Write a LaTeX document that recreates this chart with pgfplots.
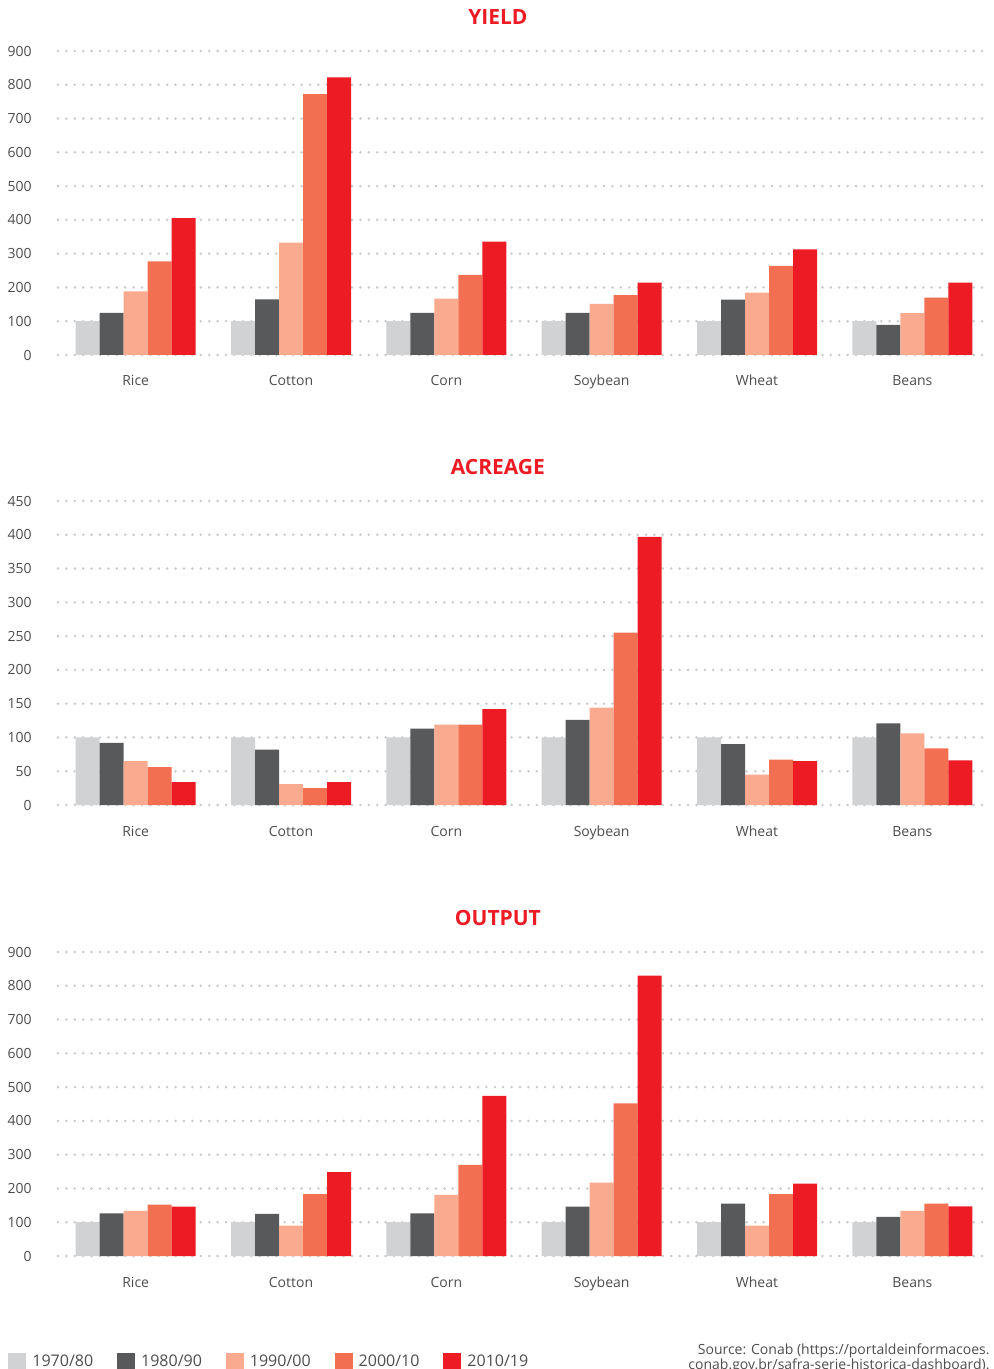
\documentclass[border=0pt]{standalone}
\usepackage{fontspec}
\setmainfont{Open Sans}
\usepackage{pgfplots}
\usepackage{pgfplotstable}
\pgfplotsset{compat=1.18}

\definecolor{c1}{HTML}{D1D2D4}
\definecolor{c2}{HTML}{58595B}
\definecolor{c3}{HTML}{F9AA8F}
\definecolor{c4}{HTML}{F26F51}
\definecolor{c5}{HTML}{ED1C24}
\definecolor{txt}{HTML}{4D4D4D}
\definecolor{gridc}{HTML}{CACACA}

\pgfplotstableread{
x a b c d e
0 100 125 188 277 405
1 100 165 333 772 822
2 100 125 167 237 336
3 100 125 151 177 214
4 100 164 185 264 313
5 100 89 124 170 214
}\yieldtab
\pgfplotstableread{
x a b c d e
0 100 92 65 56 34
1 100 82 31 25 34
2 100 113 119 119 142
3 100 126 144 255 397
4 100 90 45 67 65
5 100 121 106 84 66
}\acreagetab
\pgfplotstableread{
x a b c d e
0 100 126 134 152 146
1 100 125 90 183 248
2 100 126 181 270 474
3 100 146 217 452 830
4 100 155 90 183 214
5 100 116 134 155 147
}\outputtab

\pgfplotsset{
 panel/.style={
  width=466pt, height=152pt, scale only axis,
  xmin=-0.5, xmax=5.5, ymin=0,
  axis line style={draw=none}, tick style={draw=none},
  major tick length=0pt,
  xtick={0,...,5}, xticklabels={Rice,Cotton,Corn,Soybean,Wheat,Beans},
  ymajorgrids, grid style={gridc, line width=1.4pt, line cap=round, dash pattern=on 0pt off 4.2pt},
  ybar=0pt, bar width=12pt,
  ticklabel style={font=\fontsize{7}{8}\selectfont, text=txt},
  yticklabel style={anchor=east, inner sep=0pt, xshift=-13pt},
  xticklabel style={anchor=base, inner sep=0pt, yshift=-15.5pt},
  /pgf/number format/assume math mode=true,
  title style={at={(0.472,1)}, anchor=center, yshift=11pt, font=\fontsize{10.5}{12}\selectfont\bfseries, text=c5},
  clip=false,
 },
}

\begin{document}
\begin{tikzpicture}
\useasboundingbox (-29pt,-507pt) rectangle (468pt,177.5pt);

\begin{axis}[panel, at={(0pt,0pt)}, anchor=south west, ymax=900, ytick={0,100,...,900}, title={YIELD}]
\addplot[fill=c1, draw=none] table[x=x, y=a] {\yieldtab};
\addplot[fill=c2, draw=none] table[x=x, y=b] {\yieldtab};
\addplot[fill=c3, draw=none] table[x=x, y=c] {\yieldtab};
\addplot[fill=c4, draw=none] table[x=x, y=d] {\yieldtab};
\addplot[fill=c5, draw=none] table[x=x, y=e] {\yieldtab};
\end{axis}

\begin{axis}[panel, at={(0pt,-225pt)}, anchor=south west, ymax=450, ytick={0,50,...,450}, title={ACREAGE}]
\addplot[fill=c1, draw=none] table[x=x, y=a] {\acreagetab};
\addplot[fill=c2, draw=none] table[x=x, y=b] {\acreagetab};
\addplot[fill=c3, draw=none] table[x=x, y=c] {\acreagetab};
\addplot[fill=c4, draw=none] table[x=x, y=d] {\acreagetab};
\addplot[fill=c5, draw=none] table[x=x, y=e] {\acreagetab};
\end{axis}

\begin{axis}[panel, at={(0pt,-450.5pt)}, anchor=south west, ymax=900, ytick={0,100,...,900}, title={OUTPUT},
  legend columns=5,
  legend image code/.code={\fill[#1] (0pt,-4.75pt) rectangle (9pt,4.75pt);},
  legend style={at={(0,0)}, anchor=west, xshift=-25pt, yshift=-53pt, draw=none, fill=none,
    inner sep=0pt, font=\fontsize{8}{9}\selectfont, text=txt,
    /tikz/every odd column/.append style={column sep=1pt},
    /tikz/every even column/.append style={column sep=10pt}},
  legend cell align=left]
\addplot[fill=c1, draw=none] table[x=x, y=a] {\outputtab};
\addplot[fill=c2, draw=none] table[x=x, y=b] {\outputtab};
\addplot[fill=c3, draw=none] table[x=x, y=c] {\outputtab};
\addplot[fill=c4, draw=none] table[x=x, y=d] {\outputtab};
\addplot[fill=c5, draw=none] table[x=x, y=e] {\outputtab};
\legend{1970/80,1980/90,1990/00,2000/10,2010/19}
\node[anchor=north east, align=right, font=\fontsize{7}{7.5}\selectfont, text=txt, inner sep=0pt]
  at (rel axis cs:1,0) [yshift=-43.5pt] {Source: Conab (https://portaldeinformacoes.\\conab.gov.br/safra-serie-historica-dashboard).};
\end{axis}
\end{tikzpicture}
\end{document}
